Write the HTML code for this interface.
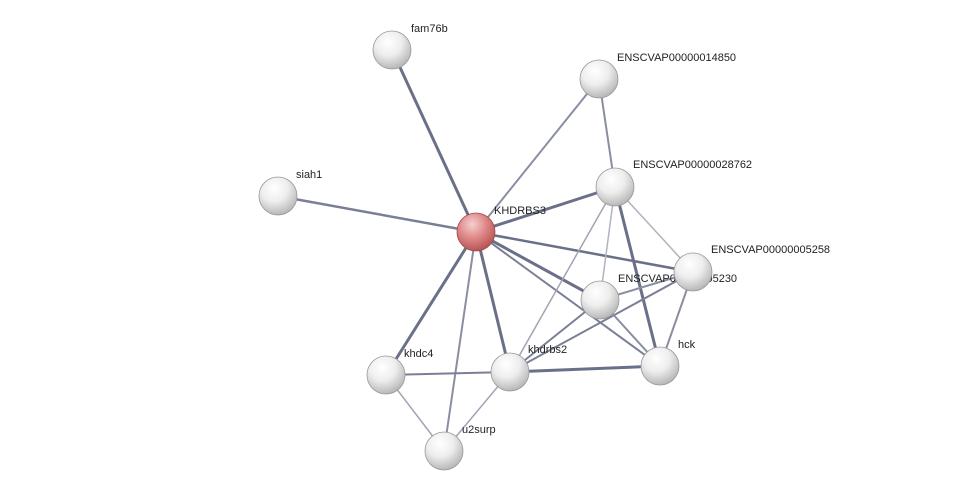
<!DOCTYPE html>
<html><head><meta charset="utf-8"><style>
html,body{margin:0;padding:0;background:#fff;}
svg{display:block;}
text{font-family:"Liberation Sans",Arial,sans-serif;font-size:11px;fill:#222;}
</style></head><body>
<svg width="975" height="496" viewBox="0 0 975 496" xmlns="http://www.w3.org/2000/svg">
<defs>
<radialGradient id="g" cx="40%" cy="30%" r="70%">
<stop offset="0" stop-color="#ffffff"/><stop offset="0.5" stop-color="#eeeeee"/><stop offset="1" stop-color="#b8b8b8"/>
</radialGradient>
<radialGradient id="r" cx="40%" cy="30%" r="70%">
<stop offset="0" stop-color="#f6d0d0"/><stop offset="0.5" stop-color="#e08a8a"/><stop offset="1" stop-color="#b85555"/>
</radialGradient>
</defs>
<g stroke-linecap="round">
<line x1="476" y1="232" x2="392" y2="50" stroke="#6a7088" stroke-width="3"/>
<line x1="476" y1="232" x2="278" y2="196" stroke="#7a7f95" stroke-width="2.5"/>
<line x1="476" y1="232" x2="599" y2="79" stroke="#8a8ea2" stroke-width="2"/>
<line x1="476" y1="232" x2="615" y2="187" stroke="#6a7088" stroke-width="3"/>
<line x1="476" y1="232" x2="693" y2="272" stroke="#6a7088" stroke-width="2.5"/>
<line x1="476" y1="232" x2="600" y2="300" stroke="#6a7088" stroke-width="3"/>
<line x1="476" y1="232" x2="660" y2="366" stroke="#7a7f95" stroke-width="2"/>
<line x1="476" y1="232" x2="386" y2="375" stroke="#6a7088" stroke-width="3"/>
<line x1="476" y1="232" x2="510" y2="372" stroke="#6a7088" stroke-width="3"/>
<line x1="476" y1="232" x2="444" y2="451" stroke="#8a8ea2" stroke-width="2"/>
<line x1="599" y1="79" x2="615" y2="187" stroke="#8a8ea2" stroke-width="2"/>
<line x1="615" y1="187" x2="693" y2="272" stroke="#b0b3c0" stroke-width="1.5"/>
<line x1="615" y1="187" x2="660" y2="366" stroke="#6a7088" stroke-width="3"/>
<line x1="615" y1="187" x2="600" y2="300" stroke="#b0b3c0" stroke-width="1.5"/>
<line x1="615" y1="187" x2="510" y2="372" stroke="#a0a4b4" stroke-width="1.5"/>
<line x1="693" y1="272" x2="600" y2="300" stroke="#8a8ea2" stroke-width="2"/>
<line x1="693" y1="272" x2="660" y2="366" stroke="#8a8ea2" stroke-width="2"/>
<line x1="693" y1="272" x2="510" y2="372" stroke="#7a7f95" stroke-width="2"/>
<line x1="600" y1="300" x2="660" y2="366" stroke="#8a8ea2" stroke-width="2"/>
<line x1="600" y1="300" x2="510" y2="372" stroke="#7a7f95" stroke-width="2"/>
<line x1="510" y1="372" x2="660" y2="366" stroke="#6a7088" stroke-width="3"/>
<line x1="386" y1="375" x2="510" y2="372" stroke="#7a7f95" stroke-width="2"/>
<line x1="386" y1="375" x2="444" y2="451" stroke="#a0a4b4" stroke-width="1.5"/>
<line x1="510" y1="372" x2="444" y2="451" stroke="#a0a4b4" stroke-width="1.5"/>
</g>
<text x="618" y="282">ENSCVAP00000005230</text>
<g stroke="#999" stroke-width="0.8">
<circle cx="392" cy="50" r="19" fill="url(#g)"/>
<circle cx="599" cy="79" r="19" fill="url(#g)"/>
<circle cx="278" cy="196" r="19" fill="url(#g)"/>
<circle cx="615" cy="187" r="19" fill="url(#g)"/>
<circle cx="693" cy="272" r="19" fill="url(#g)"/>
<circle cx="600" cy="300" r="19" fill="url(#g)"/>
<circle cx="660" cy="366" r="19" fill="url(#g)"/>
<circle cx="386" cy="375" r="19" fill="url(#g)"/>
<circle cx="510" cy="372" r="19" fill="url(#g)"/>
<circle cx="444" cy="451" r="19" fill="url(#g)"/>
<circle cx="476" cy="232" r="19" fill="url(#r)" stroke="#a04848"/>
</g>
<text x="411" y="32">fam76b</text>
<text x="617" y="61">ENSCVAP00000014850</text>
<text x="296" y="178">siah1</text>
<text x="494" y="214">KHDRBS3</text>
<text x="633" y="168">ENSCVAP00000028762</text>
<text x="711" y="253">ENSCVAP00000005258</text>
<text x="678" y="348">hck</text>
<text x="404" y="357">khdc4</text>
<text x="528" y="353">khdrbs2</text>
<text x="462" y="433">u2surp</text>
</svg>
</body></html>
